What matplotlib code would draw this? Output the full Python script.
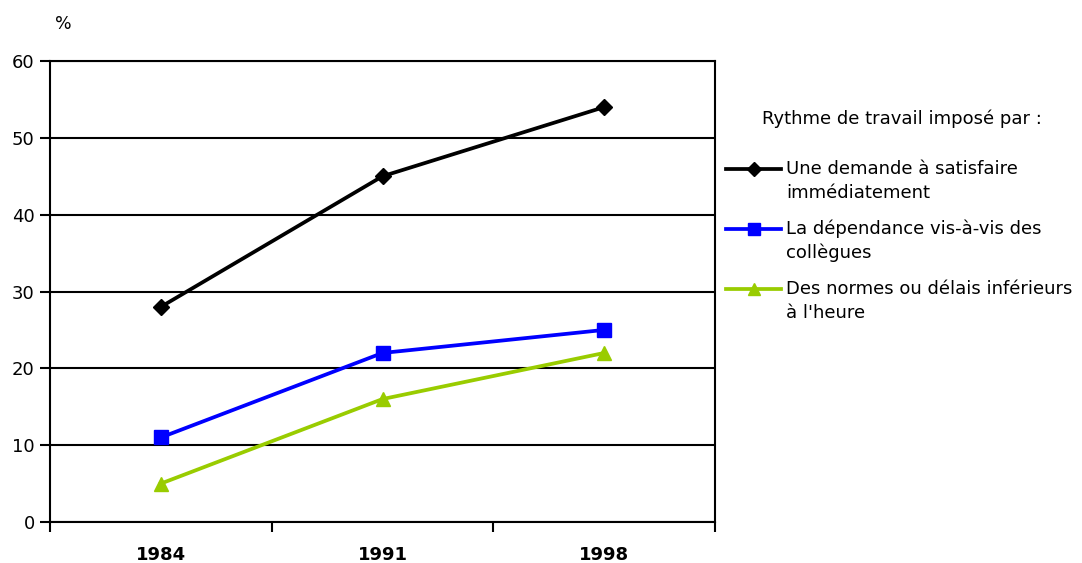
import matplotlib
matplotlib.use("Agg")
import matplotlib.pyplot as plt
from matplotlib.lines import Line2D

years = ["1984", "1991", "1998"]
demande = [28, 45, 54]
collegues = [11, 22, 25]
normes = [5, 16, 22]

legend_title = "Rythme de travail imposé par :"
labels = [
    ["Une demande à satisfaire", "immédiatement"],
    ["La dépendance vis-à-vis des", "collègues"],
    ["Des normes ou délais inférieurs", "à l'heure"],
]
colors = ["#000000", "#0000FF", "#99CC00"]
markers = ["D", "s", "^"]
msizes = [8, 9.5, 10]

plt.rcParams["font.family"] = ["DejaVu Sans"]

W, H = 1082, 563
fig = plt.figure(figsize=(W / 100, H / 100), dpi=100)
ax = fig.add_axes([50 / W, 1 - 522 / H, 665 / W, 461 / H])

x = list(range(len(years)))
for vals, c, m, ms in zip([demande, collegues, normes], colors, markers, msizes):
    ax.plot(x, vals, color=c, lw=2.7, marker=m, ms=ms, mec=c, mfc=c,
            solid_joinstyle="miter", zorder=3)

ax.set_xlim(-0.5, len(years) - 0.5)
ax.set_ylim(0, 60)
ax.set_yticks(range(0, 61, 10))
ax.yaxis.grid(True, color="black", lw=1.5)
ax.set_axisbelow(True)
for s in ax.spines.values():
    s.set_linewidth(1.5)
    s.set_color("black")

# category boundary ticks on the x axis, labels centred beneath
ax.set_xticks([i - 0.5 for i in range(len(years) + 1)])
ax.set_xticklabels([])
ax.set_xticks(x, minor=True)
ax.set_xticklabels(years, minor=True, fontsize=13, fontweight="bold")
ax.tick_params(axis="x", which="minor", length=0, pad=17)
ax.tick_params(axis="x", which="major", length=7, width=1.5, direction="out")
ax.tick_params(axis="y", length=7, width=1.5, direction="out", labelsize=13, pad=4)

fig.text(55 / W, 1 - 24 / H, "%", fontsize=12.5, ha="left", va="center")

# legend
fig.text(902 / W, 1 - 119 / H, legend_title, fontsize=13, ha="center", va="center")
rows = [169, 229, 289]
for lab, c, m, ms, yr in zip(labels, colors, markers, msizes, rows):
    yf = 1 - yr / H
    fig.add_artist(Line2D([726 / W, 781 / W], [yf, yf], color=c, lw=2.7,
                          transform=fig.transFigure))
    fig.add_artist(Line2D([753.5 / W], [yf], color=c, marker=m, ms=ms * 0.9,
                          mec=c, mfc=c, transform=fig.transFigure))
    for k, line in enumerate(lab):
        fig.text(786 / W, 1 - (yr + 24 * k) / H, line, fontsize=13,
                 ha="left", va="center")

fig.savefig("out.png", dpi=100, facecolor="white")
